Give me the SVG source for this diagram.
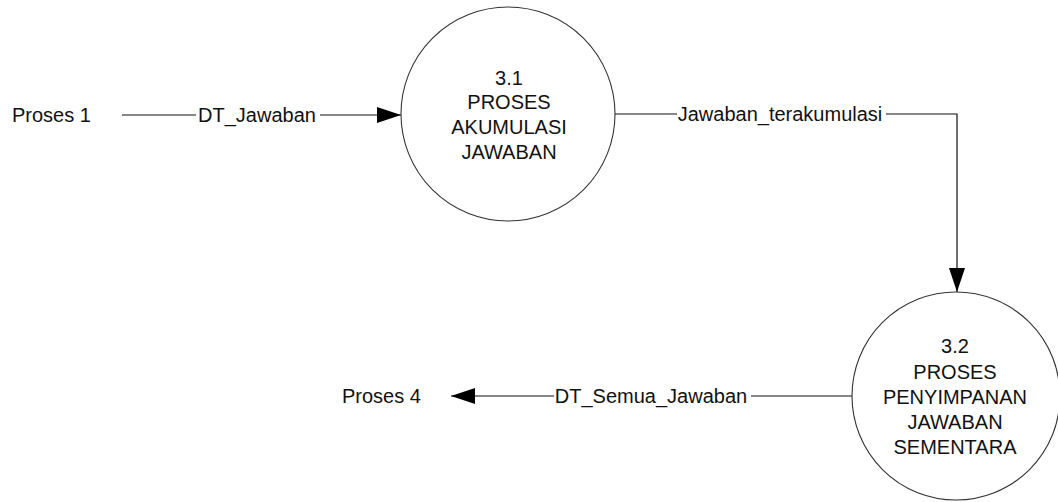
<svg xmlns="http://www.w3.org/2000/svg" width="1058" height="502" viewBox="0 0 1058 502">
  <style>
    text { font-family: "Liberation Sans", Arial, sans-serif; font-size: 20px; fill: #111; }
    .mid { text-anchor: middle; }
    .flow { fill: none; stroke: #111; stroke-width: 1.2; }
    .proc { fill: #fff; stroke: #333; stroke-width: 1.1; }
  </style>
  <defs>
    <marker id="arrow" viewBox="0 0 24 16" refX="24" refY="8" markerWidth="24" markerHeight="16" markerUnits="userSpaceOnUse" orient="auto">
      <path d="M0,0 L24,8 L0,16 Z" fill="#000"/>
    </marker>
  </defs>

  <rect width="1058" height="502" fill="#fff"/>

  <!-- data flows -->
  <g id="connectors">
    <!-- Proses 1 -> 3.1 -->
    <line class="flow" x1="122" y1="115" x2="196" y2="115"/>
    <line class="flow" x1="320" y1="115" x2="401" y2="115" marker-end="url(#arrow)"/>
    <text class="mid" x="257" y="122">DT_Jawaban</text>

    <!-- 3.1 -> 3.2 -->
    <line class="flow" x1="615" y1="114" x2="677" y2="114"/>
    <polyline class="flow" points="886,114 957,114 957,292" marker-end="url(#arrow)"/>
    <text class="mid" x="780" y="121">Jawaban_terakumulasi</text>

    <!-- 3.2 -> Proses 4 -->
    <line class="flow" x1="852" y1="396" x2="751" y2="396"/>
    <line class="flow" x1="554" y1="396" x2="451" y2="396" marker-end="url(#arrow)"/>
    <text class="mid" x="651" y="403">DT_Semua_Jawaban</text>
  </g>

  <!-- external entities -->
  <g id="proses-1">
    <text x="12" y="122">Proses 1</text>
  </g>
  <g id="proses-4">
    <text x="342" y="403">Proses 4</text>
  </g>

  <!-- process 3.1 -->
  <g id="proses-3-1">
    <circle class="proc" cx="508" cy="114" r="107"/>
    <text class="mid" x="509" y="85">3.1</text>
    <text class="mid" x="509" y="109">PROSES</text>
    <text class="mid" x="509" y="134">AKUMULASI</text>
    <text class="mid" x="509" y="159">JAWABAN</text>
  </g>

  <!-- process 3.2 -->
  <g id="proses-3-2">
    <circle class="proc" cx="956" cy="396" r="104"/>
    <text class="mid" x="955" y="353">3.2</text>
    <text class="mid" x="955" y="379">PROSES</text>
    <text class="mid" x="955" y="404">PENYIMPANAN</text>
    <text class="mid" x="955" y="429">JAWABAN</text>
    <text class="mid" x="955" y="454">SEMENTARA</text>
  </g>
</svg>
